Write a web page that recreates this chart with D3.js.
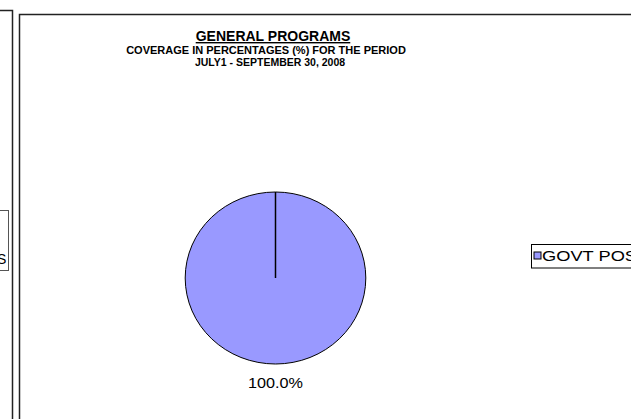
<!DOCTYPE html>
<meta charset="utf-8">
<style>
	body { margin: 0; background: #fff; }
	text { font-family: "Liberation Sans", Arial, sans-serif; }
</style>
<body>
<script src="https://d3js.org/d3.v7.min.js"></script>
<script>
// chart data
var categories = ["GOVT POS"];
var values = [100];
var titleLines = ["GENERAL PROGRAMS", "COVERAGE IN PERCENTAGES (%) FOR THE PERIOD", "JULY1 - SEPTEMBER 30, 2008"];

var width = 631, height = 419;

var svg = d3.select("body").append("svg")
	.attr("width", width)
	.attr("height", height);

// left neighbour chart, mostly cut off
svg.append("path")
	.attr("d", "M0,10.5H12.5V" + (height + 5))
	.attr("fill", "none").attr("stroke", "#222").attr("stroke-width", 1.5);
svg.append("rect")
	.attr("x", -20).attr("y", 210.5).attr("width", 28.5).attr("height", 60)
	.attr("fill", "#fff").attr("stroke", "#555").attr("stroke-width", 1);
svg.append("text")
	.attr("x", -3).attr("y", 264)
	.style("font-size", "14px")
	.text("S");

// chart frame
svg.append("rect")
	.attr("x", 19.5).attr("y", 14.5).attr("width", 700).attr("height", 500)
	.attr("fill", "#fff").attr("stroke", "#222").attr("stroke-width", 1.5);

// titles
var title = svg.append("g").attr("text-anchor", "middle");
title.append("text")
	.attr("x", 273).attr("y", 41)
	.style("font-size", "14px").style("font-weight", "bold")
	.style("text-decoration", "underline")
	.text(titleLines[0]);
title.append("text")
	.attr("x", 266).attr("y", 54)
	.style("font-size", "11px").style("font-weight", "bold")
	.text(titleLines[1]);
title.append("text")
	.attr("x", 270).attr("y", 66)
	.style("font-size", "10.5px").style("font-weight", "bold")
	.text(titleLines[2]);

// pie
var cx = 275.5, cy = 278, r = 86;
var pie = d3.pie().sort(null)(values);
var arc = d3.arc().innerRadius(0).outerRadius(r);
var total = d3.sum(values);

var g = svg.append("g")
	.attr("transform", "translate(" + cx + "," + cy + ") scale(1.05,1)");

g.selectAll("path.slice")
	.data(pie)
	.enter().append("path")
	.attr("class", "slice")
	.attr("d", arc)
	.attr("fill", "#9999ff")
	.attr("stroke", "#000")
	.attr("stroke-width", 1)
	.attr("vector-effect", "non-scaling-stroke");

// slice boundary lines
g.selectAll("line.edge")
	.data(pie)
	.enter().append("line")
	.attr("class", "edge")
	.attr("x1", 0).attr("y1", 0)
	.attr("x2", function(d) { return d3.pointRadial(d.startAngle, r)[0]; })
	.attr("y2", function(d) { return d3.pointRadial(d.startAngle, r)[1]; })
	.attr("stroke", "#000").attr("stroke-width", 1.5)
	.attr("vector-effect", "non-scaling-stroke");

// value labels below the pie
svg.selectAll("text.pct")
	.data(pie)
	.enter().append("text")
	.attr("class", "pct")
	.attr("x", cx)
	.attr("y", 388)
	.attr("text-anchor", "middle")
	.attr("textLength", 55)
	.attr("lengthAdjust", "spacingAndGlyphs")
	.style("font-size", "14px")
	.text(function(d) { return (d.value / total * 100).toFixed(1) + "%"; });

// legend
var legend = svg.append("g").attr("transform", "translate(531.5,244.5)");
legend.append("rect")
	.attr("width", 120).attr("height", 23.5)
	.attr("fill", "#fff").attr("stroke", "#000").attr("stroke-width", 1);
var item = legend.selectAll("g.item")
	.data(categories)
	.enter().append("g").attr("class", "item");
item.append("rect")
	.attr("x", 2.5).attr("y", 7.5).attr("width", 7).attr("height", 7)
	.attr("fill", "#9999ff").attr("stroke", "#000").attr("stroke-width", 1);
item.append("text")
	.attr("x", 10.5).attr("y", 16.5)
	.attr("textLength", 95)
	.attr("lengthAdjust", "spacingAndGlyphs")
	.style("font-size", "14px")
	.text(function(d) { return d; });
</script>
</body>
